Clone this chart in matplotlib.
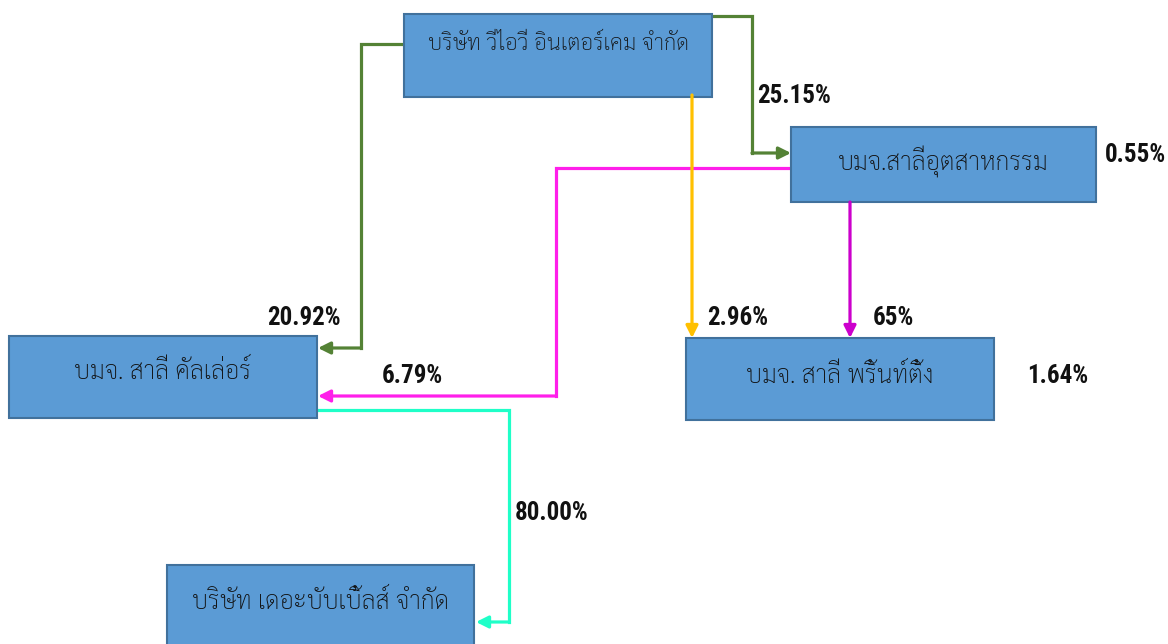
import glob

import matplotlib
matplotlib.use("Agg")
import matplotlib.pyplot as plt
from matplotlib import font_manager
from matplotlib.patches import Rectangle, FancyArrowPatch

FONT_GLOBS = [
    "/usr/share/fonts/truetype/google-fonts/Sarabun-Regular.ttf",
    "/usr/share/fonts/truetype/google-fonts/Sarabun-Light.ttf",
    "/usr/share/fonts/truetype/google-fonts/RobotoCondensed*.ttf",
    "/usr/share/fonts/**/LiberationSansNarrow-Bold.ttf",
]
for pattern in FONT_GLOBS:
    for path in glob.glob(pattern, recursive=True):
        try:
            font_manager.fontManager.addfont(path)
        except Exception:
            pass

THAI_FAMILY = ["Sarabun", "Loma", "DejaVu Sans"]
PCT_FAMILY = ["Roboto Condensed", "Liberation Sans Narrow", "DejaVu Sans"]

# companies (boxes)
companies = [
    "บริษัท วีไอวี อินเตอร์เคม จำกัด",
    "บมจ.สาลี่อุตสาหกรรม",
    "บมจ. สาลี่ คัลเล่อร์",
    "บมจ. สาลี่ พริ้นท์ติ้ง",
    "บริษัท เดอะบับเบิ้ลส์ จำกัด",
]
# holding links: (from, to, share)
link_src = [0, 0, 0, 1, 1, 2]
link_dst = [2, 1, 3, 2, 3, 4]
link_share = ["20.92%", "25.15%", "2.96%", "6.79%", "65%", "80.00%"]
# free-standing percentages next to boxes
side_box = [1, 3]
side_share = ["0.55%", "1.64%"]

# ---- layout (pixel coordinates, y down) ----
box_xywh = [
    (404, 14, 308, 83),
    (791, 127, 305, 75),
    (9, 336, 308, 82),
    (686, 338, 308, 82),
    (167, 565, 307, 90),
]
text_y = [44, 162, 372, 376, 602]
text_size = [16, 18, 18, 18, 18]

link_paths = [
    [(404, 44), (361, 44), (361, 348), (318, 348)],
    [(712, 16), (752, 16), (752, 153), (791, 153)],
    [(692, 95), (692, 338)],
    [(791, 168), (556, 168), (556, 396), (318, 396)],
    [(850, 202), (850, 338)],
    [(318, 410), (509, 410), (509, 622), (476, 622)],
]
link_color = ["#548235", "#548235", "#FFC000", "#FF1FEA", "#CC00CC", "#1FFFC8"]
link_label_xy = [(304, 318), (794, 96), (738, 318), (412, 376), (893, 318), (552, 513)]
side_label_xy = [(1135, 155), (1058, 376)]

fig = plt.figure(figsize=(11.68, 6.44), dpi=100)
ax = fig.add_axes([0, 0, 1, 1])
ax.set_xlim(0, 1168)
ax.set_ylim(644, 0)
ax.axis("off")

for (x, y, w, h), name, ty, fs in zip(box_xywh, companies, text_y, text_size):
    ax.add_patch(Rectangle((x, y), w, h, facecolor="#5B9BD5",
                           edgecolor="#41719C", linewidth=1.5, zorder=2))
    ax.text(x + w / 2, ty, name, ha="center", va="center", fontsize=fs,
            fontweight="light", family=THAI_FAMILY, color="#111111", zorder=3)

for path, color in zip(link_paths, link_color):
    xs = [p[0] for p in path]
    ys = [p[1] for p in path]
    ax.plot(xs[:-1], ys[:-1], color=color, linewidth=2.3,
            solid_joinstyle="miter", zorder=1)
    ax.add_patch(FancyArrowPatch(path[-2], path[-1], arrowstyle="-|>",
                                 mutation_scale=18, color=color,
                                 linewidth=2.3, shrinkA=0, shrinkB=0, zorder=4))

for (lx, ly), share in zip(link_label_xy, link_share):
    ax.text(lx, ly, share, ha="center", va="center", fontsize=18,
            fontweight="bold", family=PCT_FAMILY, color="#111111")

for (lx, ly), share in zip(side_label_xy, side_share):
    ax.text(lx, ly, share, ha="center", va="center", fontsize=18,
            fontweight="bold", family=PCT_FAMILY, color="#111111")

fig.savefig("out.png", dpi=100)
